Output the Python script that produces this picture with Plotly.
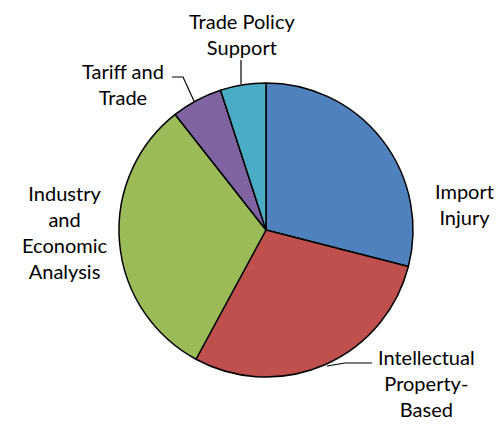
import plotly.graph_objects as go

# Slice data (clockwise from 12 o'clock)
labels = ['Import Injury', 'Intellectual Property-Based', 'Industry and Economic Analysis',
          'Tariff and Trade', 'Trade Policy Support']
values = [29.0, 28.9, 31.5, 5.6, 5.0]
colors = ['#4F81BD', '#C0504D', '#9BBB59', '#8064A2', '#4BACC6']

# Label texts as drawn beside the pie
label_texts = ['Import<br>Injury', 'Intellectual<br>Property-<br>Based',
               'Industry<br>and<br>Economic<br>Analysis', 'Tariff and<br>Trade',
               'Trade Policy<br>Support']

# page has an 8px body margin, so the figure is shifted by that much
OFF = 8
W, H = 504 - OFF, 424 - OFF


def px(x, y):
    # pixel position in the window -> paper coordinates
    return (x - OFF) / W, 1 - (y - OFF) / H


fig = go.Figure()

cx, cy, r = 266, 230, 147
x0, y0 = px(cx - r, cy + r)
x1, y1 = px(cx + r, cy - r)
fig.add_trace(go.Pie(
    labels=labels,
    values=values,
    sort=False,
    direction='clockwise',
    rotation=0,
    textinfo='none',
    hoverinfo='label+percent',
    marker=dict(colors=colors, line=dict(color='black', width=1.5)),
    domain=dict(x=[x0, x1], y=[y0, y1]),
    showlegend=False))

# label centres in pixels
label_pos = [(464, 204), (426, 383), (65, 232), (123, 84), (242, 34)]
for txt, (x, y) in zip(label_texts, label_pos):
    ax, ay = px(x, y)
    fig.add_annotation(x=ax, y=ay, xref='paper', yref='paper', text=txt,
                       showarrow=False, xanchor='center', yanchor='middle',
                       borderpad=0,
                       font=dict(family='Lato', size=20, color='black'))

# leader lines
leaders = [
    [(241, 60), (241, 84)],
    [(172, 77), (183, 77), (194, 101)],
    [(327, 366), (345, 363), (372, 363)],
]
for pts in leaders:
    path = ''
    for i, (x, y) in enumerate(pts):
        X, Y = px(x, y)
        path += ('M' if i == 0 else 'L') + f'{X},{Y} '
    fig.add_shape(type='path', xref='paper', yref='paper', path=path,
                  line=dict(color='black', width=1.2))

fig.update_layout(
    width=W, height=H,
    margin=dict(l=0, r=0, t=0, b=0),
    paper_bgcolor='white',
    plot_bgcolor='white')

fig.write_html('out.html')
